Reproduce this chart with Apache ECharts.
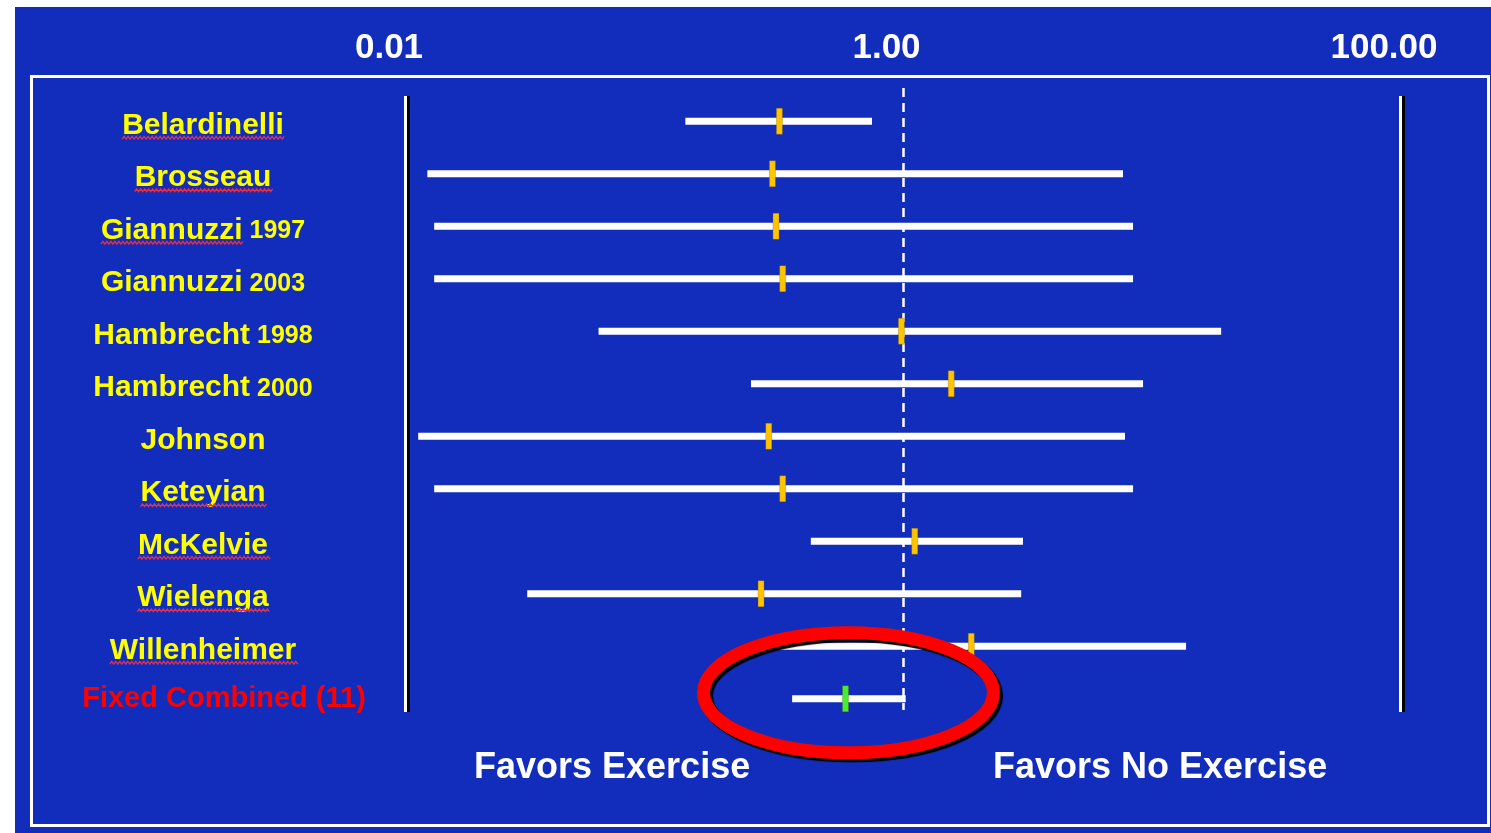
<!DOCTYPE html>
<html>
<head>
<meta charset="utf-8">
<title>Exercise training meta-analysis</title>
<style>
  html, body { margin: 0; padding: 0; background: #ffffff; }
  #chart { width: 1491px; height: 833px; }
</style>
<script src="https://cdn.jsdelivr.net/npm/echarts/dist/echarts.min.js"></script>
</head>
<body>
<div id="chart"></div>
<script>
// Trials, in display order (top to bottom)
const studies = ['Belardinelli', 'Brosseau', 'Giannuzzi 1997', 'Giannuzzi 2003', 'Hambrecht 1998',
  'Hambrecht 2000', 'Johnson', 'Keteyian', 'McKelvie', 'Wielenga', 'Willenheimer'];
// Odds ratio point estimates and 95% confidence limits per trial
const oddsRatio = [0.32, 0.30, 0.31, 0.33, 0.99, 1.57, 0.29, 0.33, 1.12, 0.27, 1.89];
const ciLower   = [0.134, 0.0123, 0.0131, 0.0131, 0.060, 0.246, 0.0113, 0.0131, 0.428, 0.031, 0.313];
const ciUpper   = [0.754, 7.70, 8.45, 8.45, 19.1, 9.27, 7.84, 8.45, 3.05, 3.00, 13.8];
// Fixed-effect pooled estimate
const pooledLabel = 'Fixed Combined (11)';
const pooledOR    = [0.59];
const pooledLower = [0.36];
const pooledUpper = [1.03];
// Axis range, tick values and the line of no effect
const axisMin = 0.01, axisMax = 100, nullValue = 1;
const sideLabels = ['Favors Exercise', 'Favors No Exercise'];
// Row labels carrying the editor's wavy proofing underline
const flaggedLabels = ['Belardinelli', 'Brosseau', 'Giannuzzi 1997', 'Keteyian', 'McKelvie', 'Wielenga', 'Willenheimer'];

const categories = studies.concat([pooledLabel]);
const studyData = studies.map((s, i) => [ciLower[i], oddsRatio[i], ciUpper[i], i]);
const pooledData = pooledOR.map((v, i) => [pooledLower[i], v, pooledUpper[i], studies.length + i]);
const boundData = [[axisMin, 0], [axisMax, 0]];
const nullData = [[nullValue, 0]];

const BLUE = '#122DBB';
const FONT = '"Liberation Sans", Arial, sans-serif';
const NAME_SIZE = 30, YEAR_SIZE = 25, LABEL_CENTER = 203;

function splitLabel(name) {
  const m = name.match(/^(.*) (\d{4})$/);
  return m ? { name: m[1], year: m[2] } : { name: name, year: null };
}

function forestItem(markColor) {
  return function (params, api) {
    const row = api.value(3);
    const a = api.coord([api.value(0), row]);
    const b = api.coord([api.value(2), row]);
    const p = api.coord([api.value(1), row]);
    return {
      type: 'group',
      children: [
        { type: 'line', shape: { x1: a[0], y1: a[1], x2: b[0], y2: b[1] },
          style: { stroke: '#ffffff', lineWidth: 7 } },
        { type: 'rect', shape: { x: p[0] - 3, y: p[1] - 13, width: 6, height: 26 },
          style: { fill: markColor, stroke: 'rgba(120,90,0,0.5)', lineWidth: 0.6 } }
      ]
    };
  };
}

function verticalItem(lineStyle, top, bottom) {
  return function (params, api) {
    const cs = params.coordSys;
    const x = Math.round(api.coord([api.value(0), 0])[0]) + 0.5;
    return {
      type: 'line',
      shape: { x1: x, y1: cs.y + top, x2: x, y2: cs.y + cs.height - bottom },
      style: lineStyle
    };
  };
}

const baseGraphics = [
  { id: 'bg', type: 'rect', z: -10, shape: { x: 15, y: 7, width: 1480, height: 830 }, style: { fill: BLUE } },
  { id: 'frame', type: 'rect', z: -9, shape: { x: 31.5, y: 76.5, width: 1457, height: 749 },
    style: { fill: 'none', stroke: '#ffffff', lineWidth: 3 } },
  { id: 'sideL', type: 'text', left: 474, top: 750, z: 5,
    style: { text: sideLabels[0], fill: '#ffffff', font: 'bold 36px ' + FONT } },
  { id: 'sideR', type: 'text', left: 993, top: 750, z: 5,
    style: { text: sideLabels[1], fill: '#ffffff', font: 'bold 36px ' + FONT } }
];

const chart = echarts.init(document.getElementById('chart'), null, { renderer: 'canvas' });

chart.setOption({
  backgroundColor: '#ffffff',
  animation: false,
  grid: { left: 405, right: 91, top: 95, bottom: 108, containLabel: false, outerBoundsMode: 'none' },
  graphic: baseGraphics,
  xAxis: {
    type: 'log',
    logBase: 10,
    min: axisMin,
    max: axisMax,
    interval: 2,
    position: 'top',
    axisLine: { show: false },
    axisTick: { show: false },
    splitLine: { show: false },
    axisLabel: {
      show: true,
      margin: 29,
      color: '#ffffff',
      fontSize: 35,
      fontWeight: 'bold',
      fontFamily: FONT,
      padding: [0, 32, 0, 0],
      formatter: v => Number(v).toFixed(2)
    }
  },
  yAxis: {
    type: 'category',
    data: categories,
    inverse: true,
    axisLine: { show: false },
    axisTick: { show: false },
    splitLine: { show: false },
    axisLabel: {
      margin: 405 - LABEL_CENTER,
      align: 'center',
      interval: 0,
      formatter: function (label) {
        if (label === pooledLabel) return '{p|' + label + '}';
        const parts = splitLabel(label);
        if (parts.year) return '{n|' + parts.name + '}{y| ' + parts.year + '}';
        return '{n|' + parts.name + '}';
      },
      rich: {
        n: { color: '#FFFF00', fontSize: NAME_SIZE, fontWeight: 'bold', fontFamily: FONT, padding: [8, 0, 0, 0] },
        y: { color: '#FFFF00', fontSize: YEAR_SIZE, fontWeight: 'bold', fontFamily: FONT, padding: [10, 0, 0, 0] },
        p: { color: '#FF0000', fontSize: 29, fontWeight: 'bold', fontFamily: FONT, padding: [0, 0, 0, 42] }
      }
    }
  },
  series: [
    {
      // solid boundary lines at the axis limits
      type: 'custom',
      name: 'Bounds',
      data: boundData,
      encode: { x: 0, y: 1 },
      silent: true,
      z: 1,
      renderItem: verticalItem({ stroke: '#ffffff', lineWidth: 3, shadowColor: '#000000', shadowOffsetX: 3, shadowBlur: 0 }, 1, 13)
    },
    {
      // dashed line of no effect
      type: 'custom',
      name: 'No effect',
      data: nullData,
      encode: { x: 0, y: 1 },
      silent: true,
      z: 1,
      renderItem: verticalItem({ stroke: '#ffffff', lineWidth: 2.5, lineDash: [9, 6] }, -7, 15)
    },
    {
      type: 'custom',
      name: 'Trials',
      data: studyData,
      encode: { x: [0, 1, 2], y: 3 },
      renderItem: forestItem('#FFC400'),
      z: 3
    },
    {
      type: 'custom',
      name: 'Pooled',
      data: pooledData,
      encode: { x: [0, 1, 2], y: 3 },
      renderItem: forestItem('#44EE33'),
      z: 4
    },
    {
      // highlight ring around the pooled estimate
      type: 'custom',
      name: 'Highlight',
      data: pooledData,
      encode: { x: 1, y: 3 },
      z: 6,
      renderItem: function (params, api) {
        const c = api.coord([api.value(1), api.value(3)]);
        return {
          type: 'ellipse',
          shape: { cx: c[0] + 3, cy: c[1] - 6, rx: 145, ry: 60 },
          style: { fill: 'none', stroke: '#FF0000', lineWidth: 13,
                   shadowColor: '#000000', shadowOffsetX: 3, shadowOffsetY: 3, shadowBlur: 1 }
        };
      }
    }
  ]
});

// Wavy underlines beneath the flagged label words
(function addSquiggles() {
  const ctx = document.createElement('canvas').getContext('2d');
  const measure = (text, size) => { ctx.font = 'bold ' + size + 'px ' + FONT; return ctx.measureText(text).width; };
  const extra = flaggedLabels.map(function (label) {
    const parts = splitLabel(label);
    const wName = measure(parts.name, NAME_SIZE);
    const wFull = wName + (parts.year ? measure(' ' + parts.year, YEAR_SIZE) : 0);
    const x0 = LABEL_CENTER - wFull / 2;
    const y = chart.convertToPixel({ yAxisIndex: 0 }, label) + 16.5;
    const pts = [];
    for (let x = 0, k = 0; x <= wName + 2; x += 2, k++) pts.push([x0 + x, y + (k % 2 ? -1.4 : 1.4)]);
    return { id: 'sq-' + label, type: 'polyline', z: 5, shape: { points: pts },
      style: { stroke: '#E0304A', lineWidth: 1.4, fill: 'none' } };
  });
  chart.setOption({ graphic: baseGraphics.concat(extra) });
})();
</script>
</body>
</html>
